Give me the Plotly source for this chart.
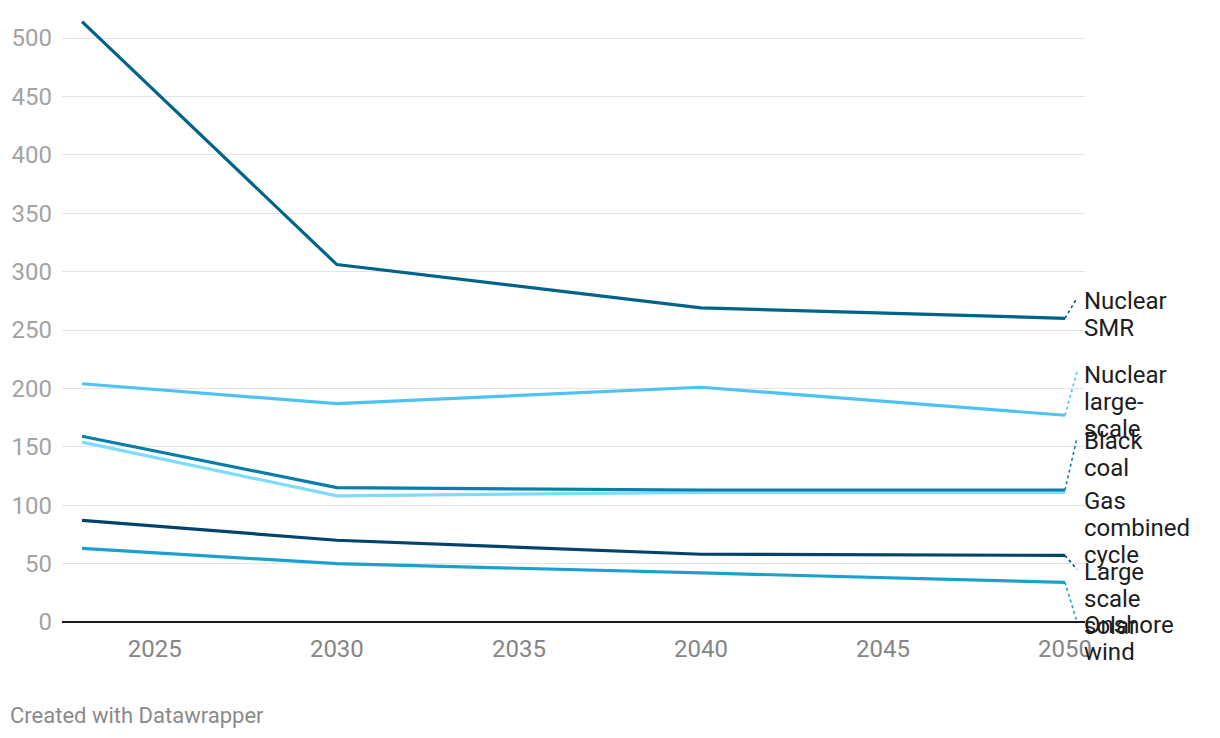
import plotly.graph_objects as go

years = [2023, 2030, 2040, 2050]

series_names = ["Nuclear SMR", "Nuclear large-scale", "Black coal",
                "Gas combined cycle", "Large scale solar", "Onshore wind"]
nuclear_smr = [514, 306, 269, 260]
nuclear_large = [204, 187, 201, 177]
black_coal = [159, 115, 113, 113]
gas_combined = [154, 108, 111, 111]
large_solar = [87, 70, 58, 57]
onshore_wind = [63, 50, 42, 34]

label_lines = [["Nuclear", "SMR"], ["Nuclear", "large-", "scale"], ["Black", "coal"],
               ["Gas", "combined", "cycle"], ["Large", "scale", "solar"], ["Onshore", "wind"]]
# vertical position (in value units) of the first text line of each end label
label_pos = [274.8, 211.7, 155.1, 104.0, 42.4, -2.6]
show_connector = [True, True, True, False, True, True]

colors = ["#006389", "#4fc3ef", "#0a7eaa", "#7ddcfa", "#00436b", "#1ba1cc"]

values = [nuclear_smr, nuclear_large, black_coal, gas_combined, large_solar, onshore_wind]

y_ticks = [0, 50, 100, 150, 200, 250, 300, 350, 400, 450, 500]
x_ticks = [2025, 2030, 2035, 2040, 2045, 2050]

PX_PER_UNIT = 1.168
Y_MAX = 614 / PX_PER_UNIT
LINE_STEP = 27 / PX_PER_UNIT

fig = go.Figure()
order = [3, 1, 2, 0, 4, 5]
for i in order:
    fig.add_trace(go.Scatter(
        x=years, y=values[i], mode="lines", name=series_names[i],
        line=dict(color=colors[i], width=3.2), showlegend=False,
        hoverinfo="x+y+name"))

for i in range(len(values)):
    end_val = values[i][-1]
    if show_connector[i]:
        fig.add_shape(type="line", xref="x", yref="y",
                      x0=2050, y0=end_val, x1=2050.33,
                      y1=label_pos[i] + 3 / PX_PER_UNIT,
                      line=dict(color=colors[i], width=1.6, dash="dot"))
    for k, txt in enumerate(label_lines[i]):
        fig.add_annotation(
            x=1, y=(label_pos[i] - k * LINE_STEP) / Y_MAX,
            xref="paper", yref="paper", xshift=-2,
            text=txt, showarrow=False, xanchor="left", yanchor="middle",
            align="left", borderpad=0,
            font=dict(family="Roboto", size=24, color="#1d1d1d"))

fig.add_annotation(
    x=0, y=0, xref="paper", yref="paper", xshift=-54, yshift=-93,
    text="Created with Datawrapper", showarrow=False, xanchor="left",
    yanchor="middle", font=dict(family="Roboto", size=22, color="#8a8a8a"))

fig.update_layout(
    width=1212, height=730,
    margin=dict(l=54, r=135, t=0, b=116),
    paper_bgcolor="white", plot_bgcolor="white",
    font=dict(family="Roboto"),
    xaxis=dict(range=[2022.45, 2050.55], tickvals=x_ticks, showgrid=False,
               zeroline=False, showline=False, ticks="",
               ticklabelstandoff=10,
               tickfont=dict(size=24, color="#858585"), fixedrange=True),
    yaxis=dict(range=[0, Y_MAX], tickvals=y_ticks, showgrid=True,
               gridcolor="#e4e4e4", gridwidth=1, zeroline=True,
               zerolinecolor="#1a1a1a", zerolinewidth=2, showline=False,
               ticks="", ticklabelstandoff=9,
               tickfont=dict(size=24, color="#a3a3a3"),
               fixedrange=True),
)

fig.write_html("out.html")
